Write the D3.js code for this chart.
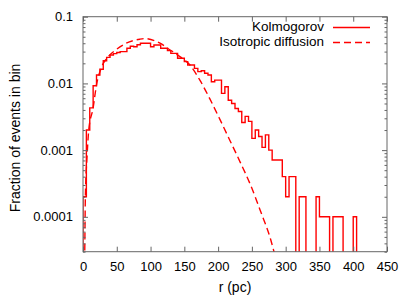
<!DOCTYPE html>
<html><head><meta charset="utf-8">
<script src="https://cdn.jsdelivr.net/npm/d3@7"></script>
<style>
body{margin:0;background:#fff;}
text{font-family:"Liberation Sans",Arial,sans-serif;fill:#000;}
</style></head>
<body><svg id="c" width="407" height="297"></svg>
<script>
// Kolmogorov histogram: fraction of events per 5 pc bin, bins starting at 0
const binWidth = 5;
const kolmogorov = [
 0.0002, 0.002, 0.0043, 0.0092, 0.0134, 0.0163, 0.0219, 0.0246, 0.0267, 0.028,
 0.029, 0.030, 0.030, 0.0336, 0.036, 0.0355, 0.038, 0.040, 0.040, 0.040,
 0.0355, 0.0377, 0.0377, 0.0336, 0.0336, 0.031, 0.0282, 0.0282, 0.0238, 0.0238,
 0.0212, 0.0189, 0.0189, 0.0168, 0.0150, 0.0155, 0.0142, 0.0134, 0.0106, 0.0112,
 0.0112, 0.0071, 0.0089, 0.0056, 0.0050, 0.0042, 0.0038, 0.0026, 0.0032, 0.0027,
 0.0015, 0.0020, 0.0016, 0.0011, 0.00169, 0.0010, 0.00071, 0.00071, 0.00071, 0.0004,
 0.0002, 0.0004, 0.0004, 0, 0.0002, 0.0002, 0, 0, 0, 0.0002,
 0.0001, 0.0001, 0.0001, 0, 0.0001, 0.0001, 0.0001, 0, 0, 0,
 0.0001, 0
];
// Isotropic diffusion curve (r in pc, fraction)
const isoR = [2.0, 2.6, 3.5, 6, 8.5, 15, 20, 27, 37, 49, 64, 84, 92, 114, 129, 144, 158, 173, 188, 203, 218, 233, 248, 263, 278, 290];
const isoV = [1e-5, 3e-5, 2e-4, 8e-4, 0.002, 0.0043, 0.0095, 0.017, 0.025, 0.032, 0.040, 0.046, 0.047, 0.040, 0.0317, 0.025, 0.019, 0.0112, 0.0058, 0.00284, 0.00136, 0.00065, 0.0003, 0.00012, 4.5e-5, 1.5e-5];
const xTicks = [0, 50, 100, 150, 200, 250, 300, 350, 400, 450];
const yTicks = [1e-4, 1e-3, 1e-2, 1e-1];
const yTickLabels = ["0.0001", "0.001", "0.01", "0.1"];
const seriesNames = ["Kolmogorov", "Isotropic diffusion"];

const svg = d3.select("#c");
const L = 83, R = 387, T = 16.7, B = 251.7;
const x = d3.scaleLinear().domain([0, 450]).range([L, R]);
const y = d3.scaleLog().domain([3e-5, 0.1]).range([B, T]);
const yv = v => v > 0 ? y(v) : B + 20;

svg.append("defs").append("clipPath").attr("id", "clip")
  .append("rect").attr("x", L).attr("y", T).attr("width", R - L).attr("height", B - T);

const red = "#ff0000";
const g = svg.append("g").attr("clip-path", "url(#clip)");

// histogram steps
const pts = [[0, 0]];
kolmogorov.forEach((v, i) => pts.push([i * binWidth, v]));
pts.push([kolmogorov.length * binWidth, 0]);
const step = d3.line().x(d => x(d[0])).y(d => yv(d[1])).curve(d3.curveStepAfter);
g.append("path").attr("d", step(pts)).attr("fill", "none").attr("stroke", red).attr("stroke-width", 1.4);

// isotropic diffusion
const iso = isoR.map((r, i) => [r, isoV[i]]);
const ln = d3.line().x(d => x(d[0])).y(d => y(d[1])).curve(d3.curveMonotoneX);
g.append("path").attr("d", ln(iso)).attr("fill", "none").attr("stroke", red)
  .attr("stroke-width", 1.4).attr("stroke-dasharray", "7,4");

// frame
const axc = "#666";
svg.append("rect").attr("x", L).attr("y", T).attr("width", R - L).attr("height", B - T)
  .attr("fill", "none").attr("stroke", axc).attr("stroke-width", 1);

// x ticks (bottom & top, inward)
svg.append("g").attr("transform", `translate(0,${B})`)
  .call(d3.axisBottom(x).tickValues(xTicks).tickSizeInner(-5).tickSizeOuter(0).tickPadding(10));
svg.append("g").attr("transform", `translate(0,${T})`)
  .call(d3.axisTop(x).tickValues(xTicks).tickSizeInner(-5).tickSizeOuter(0).tickFormat(""));
// y ticks
const minor = [];
[1e-5, 1e-4, 1e-3, 1e-2].forEach(d => [2,3,4,5,6,7,8,9].forEach(k => { const v = d * k; if (v >= 3e-5 && v < 0.1) minor.push(v); }));
svg.append("g").attr("transform", `translate(${L},0)`)
  .call(d3.axisLeft(y).tickValues(yTicks).tickFormat((d, i) => yTickLabels[i]).tickSizeInner(-5).tickSizeOuter(0).tickPadding(10));
svg.append("g").attr("transform", `translate(${R},0)`)
  .call(d3.axisRight(y).tickValues(yTicks).tickFormat("").tickSizeInner(-5).tickSizeOuter(0));
svg.append("g").attr("transform", `translate(${L},0)`)
  .call(d3.axisLeft(y).tickValues(minor).tickFormat("").tickSizeInner(-2.5).tickSizeOuter(0));
svg.append("g").attr("transform", `translate(${R},0)`)
  .call(d3.axisRight(y).tickValues(minor).tickFormat("").tickSizeInner(-2.5).tickSizeOuter(0));
svg.selectAll(".domain").remove();
svg.selectAll(".tick line").attr("stroke", axc);
svg.selectAll(".tick text").attr("font-size", 13).attr("font-family", "Liberation Sans, Arial, sans-serif").attr("fill", "#000");

// axis titles
svg.append("text").attr("x", 235).attr("y", 288).attr("text-anchor", "middle")
  .attr("dominant-baseline", "middle").attr("font-size", 14).text("r (pc)");
svg.append("text").attr("transform", "translate(16,138) rotate(-90)").attr("text-anchor", "middle")
  .attr("dominant-baseline", "middle").attr("font-size", 14).text("Fraction of events in bin");

// legend
const leg = [[27.5, null], [42.5, "7,4"]];
seriesNames.forEach((nm, i) => {
  svg.append("text").attr("x", 324).attr("y", leg[i][0]).attr("text-anchor", "end")
    .attr("dominant-baseline", "middle").attr("font-size", 13.5).text(nm);
  const l = svg.append("line").attr("x1", 333).attr("x2", 370).attr("y1", leg[i][0]).attr("y2", leg[i][0])
    .attr("stroke", red).attr("stroke-width", 1.4);
  if (leg[i][1]) l.attr("stroke-dasharray", leg[i][1]);
});
</script></body></html>
